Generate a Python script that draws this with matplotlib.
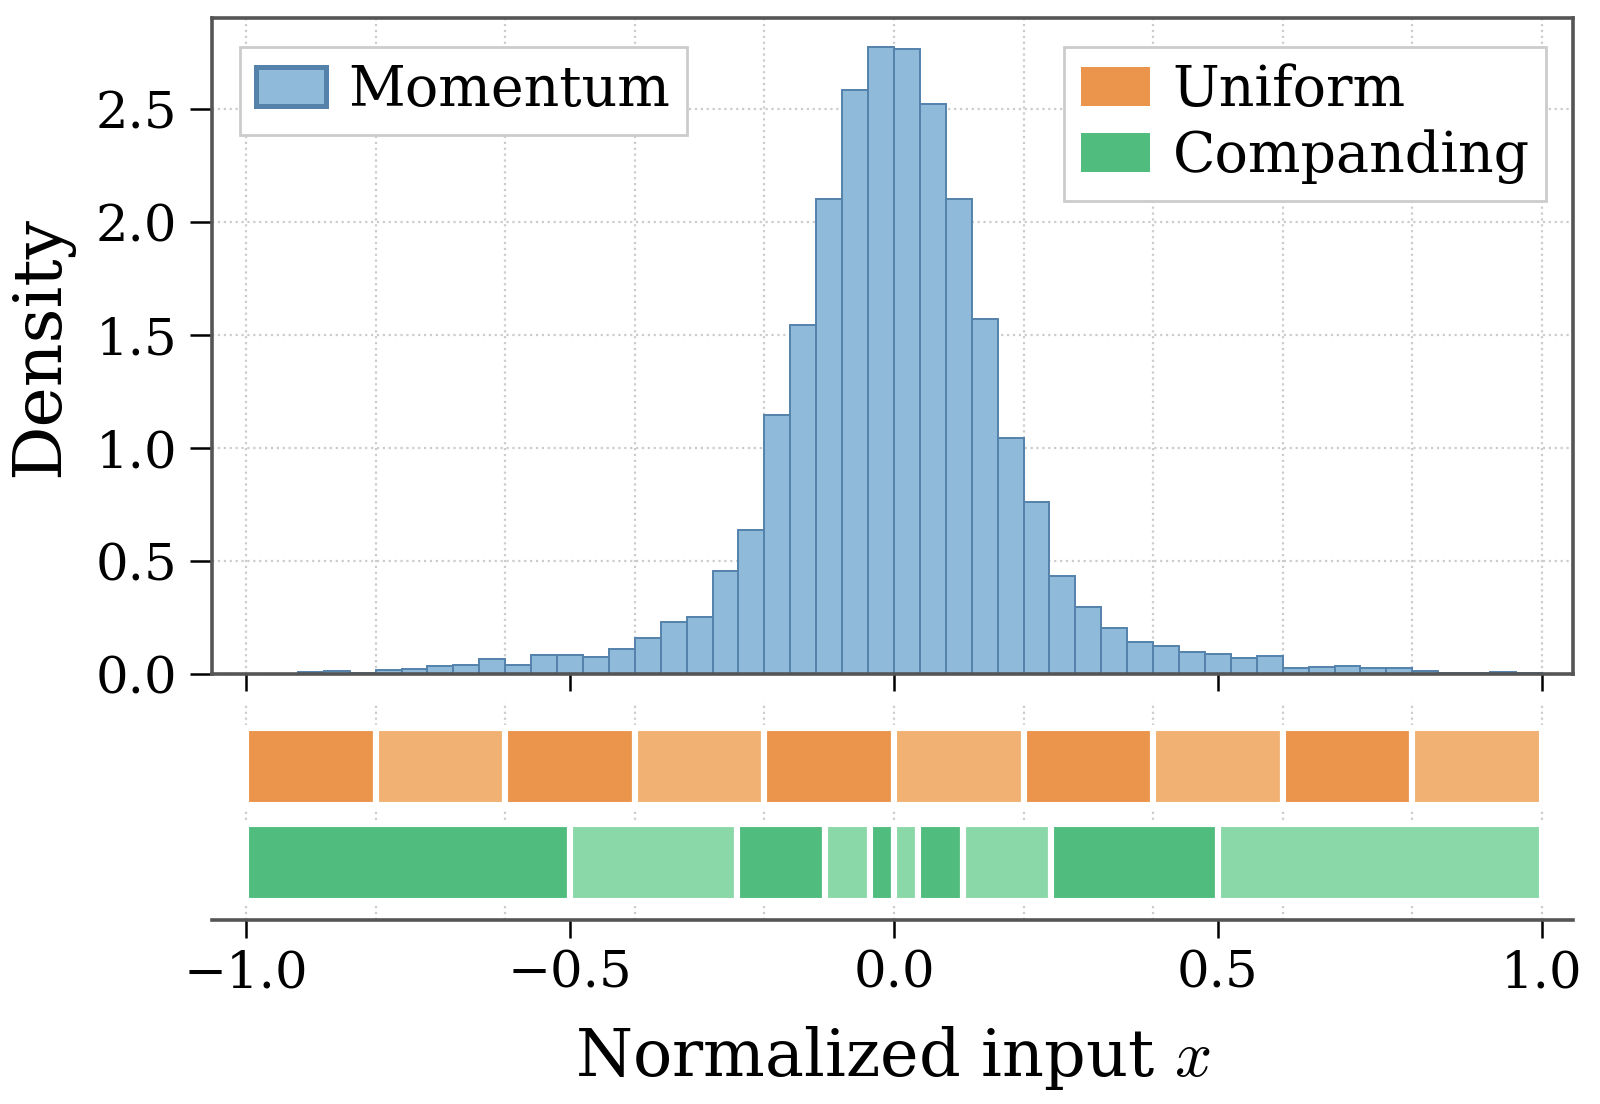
import numpy as np
import matplotlib
matplotlib.use("Agg")
import matplotlib.pyplot as plt
from matplotlib.patches import Patch
from matplotlib.ticker import MultipleLocator

# histogram of the momentum inputs (density per 0.04-wide bin, -1 .. 1)
bin_edges = np.linspace(-1, 1, 51)
momentum_density = [0.003, 0.003, 0.010, 0.016, 0.004, 0.019, 0.024, 0.039, 0.041, 0.070,
                    0.043, 0.087, 0.087, 0.077, 0.113, 0.160, 0.231, 0.252, 0.456, 0.640,
                    1.148, 1.547, 2.104, 2.586, 2.777, 2.766, 2.525, 2.102, 1.573, 1.044,
                    0.762, 0.436, 0.296, 0.205, 0.145, 0.127, 0.098, 0.089, 0.073, 0.082,
                    0.030, 0.033, 0.036, 0.030, 0.030, 0.013, 0.006, 0.006, 0.009, 0.006]

# quantizer cell boundaries
uniform_edges = [-1.0, -0.8, -0.6, -0.4, -0.2, 0.0, 0.2, 0.4, 0.6, 0.8, 1.0]
companding_edges = [-1.0, -0.5, -0.242, -0.107, -0.037, 0.0, 0.037, 0.107, 0.242, 0.5, 1.0]

blue_fill = '#8FBAD9'
blue_edge = '#5482AB'
orange = ['#EB944B', '#F1B172']
green = ['#50BC7E', '#8AD8A8']
spine_col = '#555555'

plt.rcParams['font.family'] = 'DejaVu Serif'
plt.rcParams['mathtext.fontset'] = 'cm'

fig = plt.figure(figsize=(8, 5.52), dpi=200)
ax = fig.add_axes([0.1325, 0.3892, 0.8506, 0.5946])
axb = fig.add_axes([0.1325, 0.1671, 0.8506, 0.1973])

# top: histogram
ax.bar(bin_edges[:-1], momentum_density, width=np.diff(bin_edges), align='edge',
       color=blue_fill, edgecolor=blue_edge, linewidth=0.7, label='Momentum', zorder=2)
ax.set_xlim(-1.0525, 1.048)
ax.set_ylim(0, 2.905)
ax.yaxis.set_major_locator(MultipleLocator(0.5))
ax.xaxis.set_major_locator(MultipleLocator(0.5))
ax.xaxis.set_minor_locator(MultipleLocator(0.2))
ax.xaxis.remove_overlapping_locs = False
ax.tick_params(axis='x', which='major', labelbottom=False, length=6, width=0.9, direction='out')
ax.tick_params(axis='x', which='minor', length=0)
ax.tick_params(axis='y', labelsize=18.5, length=8, width=0.9, pad=4.5, direction='out')
ax.grid(axis='x', which='minor', linestyle=':', color='#cccccc', linewidth=0.8, zorder=0)
ax.grid(axis='y', which='major', linestyle=':', color='#cccccc', linewidth=0.8, zorder=0)
ax.set_axisbelow(True)
for s in ax.spines.values():
    s.set_color(spine_col)
    s.set_linewidth(1.3)
ax.set_ylabel('Density', fontsize=24.5, labelpad=8)

leg1 = ax.legend(loc='upper left', fontsize=20, frameon=True, fancybox=False,
                 edgecolor='#cccccc', framealpha=1, borderpad=0.3, borderaxespad=0,
                 bbox_to_anchor=(0.0203, 0.956), handlelength=1.25, handletextpad=0.4)
leg1.get_frame().set_linewidth(1.0)
for h in leg1.legend_handles:
    h.set_linewidth(1.8)
ax.add_artist(leg1)
handles = [Patch(facecolor=orange[0], label='Uniform'),
           Patch(facecolor=green[0], label='Companding')]
leg2 = ax.legend(handles=handles, loc='upper right', fontsize=20, frameon=True,
                 fancybox=False, edgecolor='#cccccc', framealpha=1, borderpad=0.3,
                 borderaxespad=0, bbox_to_anchor=(0.9805, 0.956), handlelength=1.25,
                 handletextpad=0.4, labelspacing=0.2)
leg2.get_frame().set_linewidth(1.0)

# bottom: quantizer cells
u_left = uniform_edges[:-1]
u_width = np.diff(uniform_edges)
c_left = companding_edges[:-1]
c_width = np.diff(companding_edges)
axb.barh([1] * len(u_left), u_width, left=u_left, height=0.8,
         color=[orange[i % 2] for i in range(len(u_left))],
         edgecolor='white', linewidth=2.2, zorder=2)
axb.barh([0] * len(c_left), c_width, left=c_left, height=0.8,
         color=[green[i % 2] for i in range(len(c_left))],
         edgecolor='white', linewidth=2.2, zorder=2)
axb.set_xlim(-1.0525, 1.048)
axb.set_ylim(-0.59, 1.67)
axb.set_yticks([])
axb.xaxis.set_major_locator(MultipleLocator(0.5))
axb.xaxis.set_minor_locator(MultipleLocator(0.2))
axb.xaxis.remove_overlapping_locs = False
axb.tick_params(axis='x', which='major', labelsize=18.5, length=6.3, width=0.9, pad=4.5,
                direction='out')
axb.tick_params(axis='x', which='minor', length=0)
axb.grid(axis='x', which='minor', linestyle=':', color='#cccccc', linewidth=0.8, zorder=0)
axb.set_axisbelow(True)
for side in ['left', 'right', 'top']:
    axb.spines[side].set_visible(False)
axb.spines['bottom'].set_color(spine_col)
axb.spines['bottom'].set_linewidth(1.3)
axb.set_xlabel('Normalized input $x$', fontsize=23.5, labelpad=9)

fig.savefig('out.png', dpi=200)
plt.close()
print('plotting completed')
